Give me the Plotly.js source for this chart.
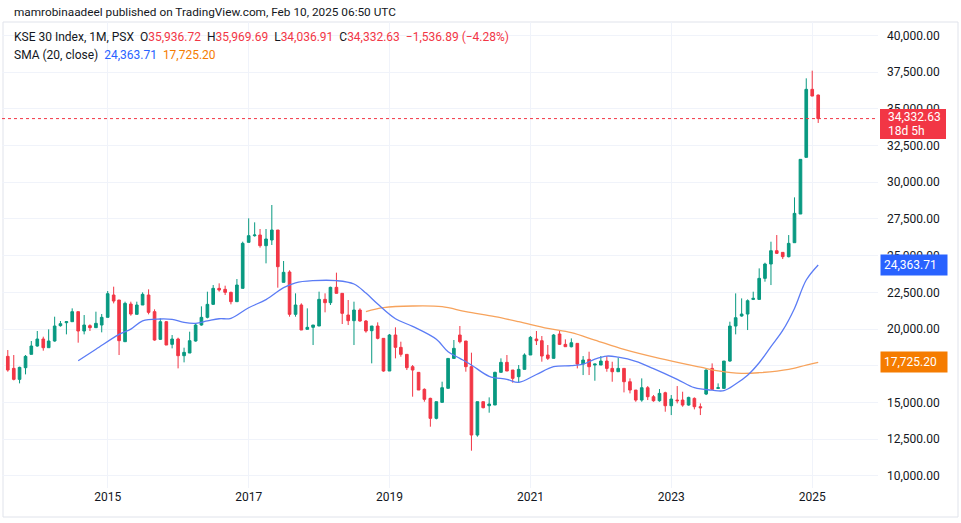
<!DOCTYPE html>
<html>
<head>
<meta charset="utf-8">
<script src="https://cdn.plot.ly/plotly-3.0.1.min.js"></script>
<style>
  html, body { margin: 0; padding: 0; background: #ffffff; }
  #chart { width: 961px; height: 523px; }
</style>
</head>
<body>
<div id="chart"></div>
<script>
// KSE 30 monthly candles, Aug 2013 .. Feb 2025
const firstMonth = '2013-08';

const opens = [
  18136, 17319, 16569, 17364, 18273, 18840, 19317, 18727, 19181, 20226,
  20430, 20498, 21180, 19863, 20226, 20090, 20271, 20794, 22315, 21974,
  19136, 21702, 20998, 21634, 22315, 21180, 19295, 20498, 18954, 19317,
  18182, 18363, 19181, 20271, 20794, 21679, 22769, 22701, 22497, 21861,
  22769, 25903, 26357, 26403, 25676, 26062, 26744, 23178, 23882, 20998,
  21634, 19976, 20113, 20203, 22020, 21793, 22838, 22429, 20953, 20567,
  21294, 20544, 19885, 20203, 19363, 17138, 19590, 18750, 18273, 17433,
  17047, 15889, 15275, 13913, 15003, 15957, 17997, 19590, 19182, 17433,
  12777, 15048, 14776, 14821, 17047, 17728, 17206, 16752, 17251, 18228,
  19318, 19204, 18228, 18001, 19658, 18954, 18793, 19021, 17613, 17930,
  17544, 17544, 17817, 17317, 17090, 17317, 16409, 15841, 15160, 16000,
  15387, 15114, 15659, 14773, 15160, 15160, 14819, 15273, 14705, 15568,
  17317, 15955, 15955, 17817, 20201, 20883, 21019, 22018, 22018, 23449,
  24426, 25334, 25220, 24925, 25879, 27832, 31693, 36326, 35936.72
];
const highs = [
  18568, 18227, 17432, 18227, 19181, 19863, 19476, 19976, 20839, 20544,
  20544, 21407, 21180, 20952, 20317, 21180, 21020, 22588, 22883, 21974,
  21861, 21861, 21861, 22497, 22701, 21339, 20725, 20544, 19590, 19408,
  18727, 19817, 20385, 21543, 22542, 22996, 23110, 22951, 22542, 23405,
  25949, 27538, 27266, 26812, 26812, 28447, 26744, 24632, 24000, 22429,
  21748, 21407, 20271, 22543, 22429, 22883, 23837, 22429, 21975, 21861,
  21407, 20612, 20203, 20453, 19363, 19658, 20113, 19136, 18273, 17546,
  17047, 15957, 15321, 15048, 16411, 17997, 19250, 20204, 19182, 18387,
  15048, 15048, 15343, 17092, 18001, 18228, 17206, 17546, 18341, 19522,
  19863, 19522, 18909, 19658, 19886, 19295, 19361, 19021, 18158, 18453,
  17613, 18158, 18158, 17771, 18044, 17317, 16636, 15841, 16636, 16114,
  15500, 15909, 15727, 15500, 16114, 15727, 15387, 15341, 14933, 17249,
  17658, 16295, 17817, 20497, 22427, 22086, 22018, 22540, 24130, 24516,
  25947, 26401, 25220, 26401, 28968, 31557, 37075, 37597, 35969.69
];
const lows = [
  17092, 16501, 16297, 16910, 18273, 18795, 18522, 18727, 19136, 20158,
  19635, 20498, 19068, 19635, 19863, 20090, 19772, 20794, 21747, 18227,
  19136, 20907, 20998, 21634, 20998, 19204, 19249, 18908, 18681, 17319,
  17728, 18363, 19136, 20226, 20725, 21634, 22542, 22315, 21679, 21861,
  22769, 25903, 26289, 25540, 24472, 25722, 22815, 23178, 20839, 20839,
  19931, 19976, 18909, 20203, 21135, 21634, 22429, 20340, 20271, 18909,
  20499, 19749, 17660, 19295, 17092, 17138, 18001, 18114, 17206, 15389,
  15843, 15048, 13345, 13845, 15003, 15957, 17997, 19023, 17092, 11710,
  12664, 14594, 14299, 14821, 17047, 17138, 16343, 16343, 17251, 18228,
  18909, 17774, 17887, 18001, 18909, 18795, 18748, 17317, 16863, 16863,
  16477, 17544, 17090, 16409, 17090, 15682, 15614, 15046, 15046, 15160,
  15046, 15046, 14365, 14138, 14933, 14705, 14773, 14524, 14138, 15500,
  15841, 15909, 15955, 17772, 19634, 20837, 19929, 21973, 22018, 23222,
  22994, 25107, 24766, 24880, 25879, 27832, 31693, 35860, 34036.91
];
const closes = [
  17205, 16569, 17387, 18136, 18840, 19317, 18727, 19181, 20203, 20362,
  20498, 21180, 19863, 20271, 20090, 20385, 20794, 22406, 21906, 19204,
  21747, 21020, 21634, 22361, 21134, 19249, 20498, 18908, 19317, 18182,
  18409, 19204, 20271, 20794, 21679, 22769, 22655, 22497, 21861, 22996,
  25835, 26357, 26403, 25676, 26130, 26744, 24245, 23860, 20998, 21634,
  19931, 20113, 20271, 22020, 21793, 22838, 22429, 21066, 20567, 21294,
  20544, 19863, 20203, 19363, 17138, 19590, 18750, 18273, 17365, 17206,
  15843, 15208, 13913, 15048, 16002, 17997, 18682, 19136, 17433, 12777,
  15048, 14640, 14889, 17047, 17728, 17138, 16638, 17251, 18228, 19431,
  19204, 18159, 18001, 19590, 18954, 18795, 19066, 17613, 17885, 17431,
  17613, 17817, 17317, 17090, 17317, 16409, 15841, 15160, 16000, 15387,
  15114, 15614, 14773, 15228, 15114, 14819, 15341, 14705, 14637, 17203,
  15886, 16000, 17817, 20201, 20769, 21019, 21927, 22086, 23449, 24426,
  25334, 25152, 24925, 25833, 27877, 31557, 36326, 35869.52, 34332.63
];

// SMA (20, close) and its smoothing line
const smaDates = [
  '2014-08', '2014-11', '2015-03', '2015-05', '2015-07', '2015-10', '2015-12', '2016-02',
  '2016-04', '2016-06', '2016-08', '2016-10', '2017-01', '2017-04', '2017-07', '2017-09',
  '2017-12', '2018-04', '2018-07', '2018-09', '2018-11', '2019-02', '2019-05', '2019-09',
  '2019-11', '2020-01', '2020-03', '2020-06', '2020-09', '2020-11', '2021-02', '2021-05',
  '2021-08', '2021-10', '2021-12', '2022-02', '2022-04', '2022-07', '2022-10', '2023-02',
  '2023-05', '2023-08', '2023-10', '2023-12', '2024-02', '2024-04', '2024-06', '2024-08',
  '2024-10', '2024-12', '2025-02'
];
const smaValues = [
  17841, 18620, 19635, 19990, 20560, 20680, 20650, 20450,
  20390, 20550, 20700, 20730, 21450, 22000, 22815, 23150,
  23290, 23292, 23065, 22450, 21700, 20700, 20180, 19300,
  18450, 18000, 17550, 16780, 16570, 16365, 16900, 17430,
  17500, 17600, 17950, 18157, 18080, 17800, 17300, 16570,
  16000, 15830, 15800, 16250, 16850, 17700, 18800, 19900,
  21400, 23335, 24363.71
];
const smoothDates = [
  '2018-09', '2018-12', '2019-05', '2019-10', '2020-02', '2020-07', '2020-11', '2021-04',
  '2021-08', '2021-12', '2022-05', '2022-11', '2023-06', '2023-09', '2024-01', '2024-04',
  '2024-09', '2024-12', '2025-02'
];
const smoothValues = [
  21180, 21450, 21566, 21521, 21180, 20839, 20499, 20044,
  19749, 19248, 18611, 17999, 17400, 17150, 16977, 17022,
  17249, 17545, 17725.20
];

const yTicks = [10000, 12500, 15000, 17500, 20000, 22500, 25000, 27500, 30000, 32500, 35000, 37500, 40000];
const xTickDates = ['2015-01-01', '2017-01-01', '2019-01-01', '2021-01-01', '2023-01-01', '2025-01-01'];
const xTickText = ['2015', '2017', '2019', '2021', '2023', '2025'];

const n = closes.length;
const lastClose = closes[n - 1];
const prevClose = closes[n - 2];
const smaLast = smaValues[smaValues.length - 1];
const smoothLast = smoothValues[smoothValues.length - 1];

const months = [];
const [fy0, fm0] = firstMonth.split('-').map(Number);
for (let i = 0; i < opens.length; i++) {
  const t = fy0 * 12 + (fm0 - 1) + i;
  months.push(Math.floor(t / 12) + '-' + String(t % 12 + 1).padStart(2, '0') + '-01');
}

const UP = '#089981';
const DOWN = '#f23645';
const BLUE_LINE = '#5b7cf5';
const ORANGE_LINE = '#f7a35c';
const TXT = '#131722';
const FONT = 'Roboto, "Open Sans", sans-serif';

const fmt = v => v.toLocaleString('en-US', { minimumFractionDigits: 2, maximumFractionDigits: 2 });

// plot area is 2..878 px wide, 22..488 px tall
const px = x => (x - 2) / 876;
const py = y => (488 - y) / 466;

const data = [
  {
    type: 'scatter', mode: 'lines',
    x: smoothDates.map(d => d + '-01'), y: smoothValues,
    line: { color: ORANGE_LINE, width: 1.3, shape: 'spline', smoothing: 1 },
    hoverinfo: 'skip', showlegend: false
  },
  {
    type: 'scatter', mode: 'lines',
    x: smaDates.map(d => d + '-01'), y: smaValues,
    line: { color: BLUE_LINE, width: 1.3, shape: 'spline', smoothing: 1 },
    hoverinfo: 'skip', showlegend: false
  },
  {
    type: 'candlestick',
    x: months, open: opens, high: highs, low: lows, close: closes,
    increasing: { line: { color: UP, width: 1 }, fillcolor: UP },
    decreasing: { line: { color: DOWN, width: 1 }, fillcolor: DOWN },
    whiskerwidth: 0,
    hoverinfo: 'skip', showlegend: false
  }
];

const sp = '&nbsp;&nbsp;';
const red = s => '<span style="color:' + DOWN + '">' + s + '</span>';
const change = lastClose - prevClose;
const pct = change / prevClose * 100;

const legend1 = 'KSE 30 Index, 1M, PSX' + sp +
  'O' + red(fmt(opens[n - 1])) + sp +
  'H' + red(fmt(highs[n - 1])) + sp +
  'L' + red(fmt(lows[n - 1])) + sp +
  'C' + red(fmt(lastClose)) + sp +
  red('−' + fmt(Math.abs(change)) + ' (−' + Math.abs(pct).toFixed(2) + '%)');
const legend2 = 'SMA (20, close)' + sp +
  '<span style="color:#2962ff">' + fmt(smaLast) + '</span>' + sp +
  '<span style="color:#f57c00">' + fmt(smoothLast) + '</span>';

const layout = {
  width: 961,
  height: 523,
  margin: { l: 2, r: 83, t: 22, b: 35 },
  paper_bgcolor: '#ffffff',
  plot_bgcolor: '#ffffff',
  font: { family: FONT, size: 12, color: TXT },
  showlegend: false,
  xaxis: {
    type: 'date',
    range: ['2013-07-02', '2025-12-08'],
    tickvals: xTickDates,
    ticktext: xTickText,
    showgrid: true,
    gridcolor: '#f0f3fa',
    zeroline: false,
    showline: false,
    ticks: '',
    tickfont: { size: 12, color: TXT },
    rangeslider: { visible: false },
    fixedrange: true
  },
  yaxis: {
    side: 'right',
    range: [9169, 40913],
    tickvals: yTicks,
    tickformat: ',.2f',
    showgrid: true,
    gridcolor: '#f0f3fa',
    zeroline: false,
    showline: false,
    ticks: '',
    ticklabelstandoff: 8,
    tickfont: { size: 12, color: TXT },
    fixedrange: true
  },
  shapes: [
    {
      type: 'rect', xref: 'paper', yref: 'paper',
      x0: px(3), x1: px(958), y0: py(517), y1: py(22),
      line: { color: '#e0e3eb', width: 1 }, fillcolor: 'rgba(0,0,0,0)', layer: 'below'
    },
    {
      type: 'line', xref: 'paper', yref: 'y',
      x0: 0, x1: 1, y0: lastClose, y1: lastClose,
      line: { color: DOWN, width: 1, dash: 'dot' }
    },
    // last-price tag behind the two text lines
    {
      type: 'rect', xref: 'paper', yref: 'paper', layer: 'above',
      x0: px(880), x1: px(946), y0: py(139), y1: py(109),
      line: { width: 0 }, fillcolor: DOWN
    }
  ],
  annotations: [
    {
      xref: 'paper', yref: 'paper', x: px(12), y: py(12),
      xanchor: 'left', yanchor: 'middle', showarrow: false,
      text: 'mamrobinaadeel published on TradingView.com, Feb 10, 2025 06:50 UTC',
      font: { size: 11.8, color: TXT }
    },
    {
      xref: 'paper', yref: 'paper', x: px(12), y: py(37),
      xanchor: 'left', yanchor: 'middle', showarrow: false,
      text: legend1, font: { size: 12, color: TXT }
    },
    {
      xref: 'paper', yref: 'paper', x: px(12), y: py(55),
      xanchor: 'left', yanchor: 'middle', showarrow: false,
      text: legend2, font: { size: 12, color: TXT }
    },
    {
      xref: 'paper', yref: 'paper', x: px(886), y: py(117),
      xanchor: 'left', yanchor: 'middle', showarrow: false,
      text: fmt(lastClose), font: { size: 12, color: '#ffffff' }
    },
    {
      xref: 'paper', yref: 'paper', x: px(886), y: py(131),
      xanchor: 'left', yanchor: 'middle', showarrow: false,
      text: '18d 5h', font: { size: 12, color: '#ffffff' }
    },
    {
      xref: 'paper', yref: 'y', x: px(880), y: smaLast,
      xanchor: 'left', yanchor: 'middle', showarrow: false, align: 'left',
      text: fmt(smaLast),
      bgcolor: '#2962ff', borderpad: 3, width: 60,
      font: { size: 12, color: '#ffffff' }
    },
    {
      xref: 'paper', yref: 'y', x: px(880), y: smoothLast,
      xanchor: 'left', yanchor: 'middle', showarrow: false, align: 'left',
      text: fmt(smoothLast),
      bgcolor: '#f57c00', borderpad: 3, width: 60,
      font: { size: 12, color: '#ffffff' }
    }
  ]
};

Plotly.newPlot('chart', data, layout, { staticPlot: true, displayModeBar: false });
</script>
</body>
</html>
